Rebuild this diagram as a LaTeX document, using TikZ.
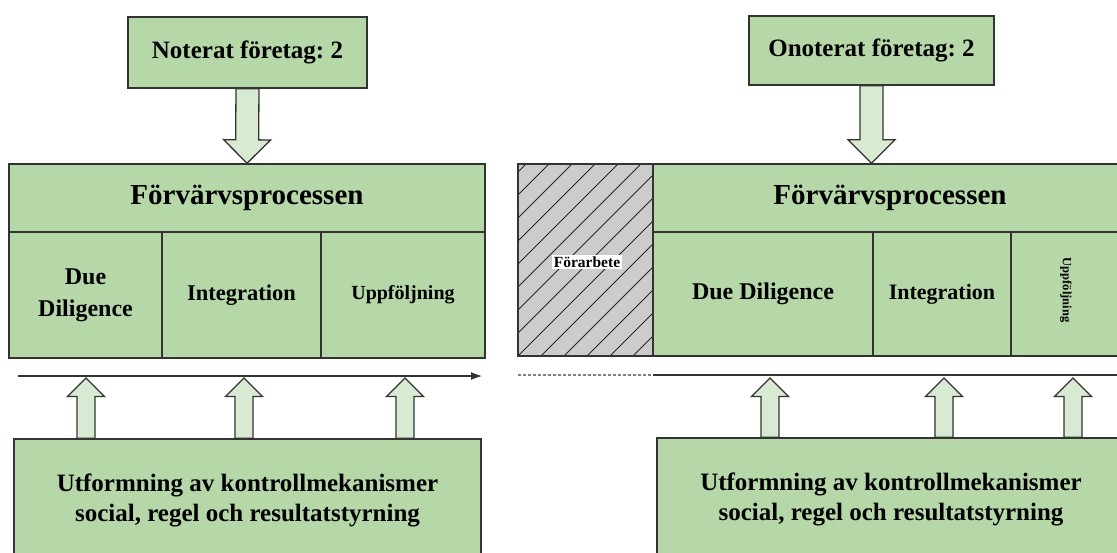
\documentclass[tikz,border=0pt]{standalone}
\usepackage{fontspec}
\setmainfont{Liberation Serif}
\usetikzlibrary{calc,arrows.meta}
\definecolor{boxgreen}{HTML}{B6D7A8}
\definecolor{arrowgreen}{HTML}{D9EAD3}
\definecolor{edgegray}{HTML}{333333}
\definecolor{hatchgray}{HTML}{CCCCCC}
\newcommand{\fsz}[2]{\fontsize{#1}{#2}\selectfont}
\frenchspacing
% block arrow: tail, tip, half shaft, half head
\newcommand{\blockarrow}[4]{%
  \coordinate (ba-p) at ($(#2)!#4!(#1)$);
  \draw[fatarrow] ($(#1)!#3!90:(#2)$) -- ($(ba-p)!#3!90:(#2)$) -- ($(ba-p)!#4!90:(#2)$) -- (#2)
    -- ($(ba-p)!#4!-90:(#2)$) -- ($(ba-p)!#3!-90:(#2)$) -- ($(#1)!#3!-90:(#2)$) -- cycle;}
\tikzset{
  box/.style={draw=edgegray, fill=boxgreen, line width=1.4pt, inner sep=0pt, align=center},
  fatarrow/.style={draw=edgegray, fill=arrowgreen, line width=1.3pt, line join=miter},
  hatched/.style={draw=edgegray, fill=hatchgray, line width=1.4pt, inner sep=0pt,
    path picture={\foreach \k in {-9,...,6}
      \draw[black!85, line width=0.9pt] ([xshift=\k*23pt]path picture bounding box.south west) -- ++(45:300pt);}},
  timeline/.style={edgegray, line width=1.2pt},
}
\begin{document}
\begin{tikzpicture}[x=1pt,y=-1pt]
  \useasboundingbox (0,0) rectangle (1117,552);
  \clip (0,0) rectangle (1117,552);

  % left: listed company
  \node[box, minimum width=239pt, minimum height=71pt, font=\bfseries\fsz{25}{30}] (noterat) at (247.5,52.5) {Noterat företag: 2};
  \node[box, minimum width=476pt, minimum height=68pt, font=\bfseries\fsz{29}{34}] (procL) at (247,198) {Förvärvsprocessen};
  \node[box, minimum width=153pt, minimum height=126pt, font=\bfseries\fsz{24}{32}] (ddL) at (85.5,295) {Due\\Diligence};
  \node[box, minimum width=159pt, minimum height=126pt, font=\bfseries\fsz{22.5}{27}] (intL) at (241.5,295) {Integration};
  \node[box, minimum width=164pt, minimum height=126pt, font=\bfseries\fsz{20}{24}] (uppL) at (403,295) {Uppföljning};
  \node[box, minimum width=467pt, minimum height=122pt, font=\bfseries\fsz{25}{30}] (ctrlL) at (247.5,500) {Utformning av kontrollmekanismer\\social, regel och resultatstyrning};

  \blockarrow{noterat.south}{procL.north}{11.5pt}{23.5pt}
  \coordinate (tlL0) at (18,376);
  \coordinate (tlL1) at (482,376);
  \draw[timeline, -{Latex[length=11pt,width=8pt]}] (tlL0) -- (tlL1);
  \foreach \n/\x in {1/86,2/244,3/405}{
    \coordinate (tipL\n) at (\x,378);
    \coordinate (tailL\n) at (ctrlL.north -| tipL\n);
    \blockarrow{tailL\n}{tipL\n}{9pt}{18.5pt}
  }

  % right: unlisted company
  \node[box, minimum width=245pt, minimum height=69pt, font=\bfseries\fsz{25}{30}] (onoterat) at (871.5,50.5) {Onoterat företag: 2};
  \node[hatched, minimum width=135pt, minimum height=192pt] (forarb) at (585.5,260) {};
  \node[fill=white, inner sep=2pt, font=\bfseries\fsz{15.5}{18}] (forarbLbl) at (587,262) {Förarbete};
  \node[box, minimum width=474pt, minimum height=68pt, font=\bfseries\fsz{29}{34}] (procR) at (890,198) {Förvärvsprocessen};
  \node[box, minimum width=220pt, minimum height=124pt, font=\bfseries\fsz{24}{30}] (ddR) at (763,294) {Due Diligence};
  \node[box, minimum width=138pt, minimum height=124pt, font=\bfseries\fsz{22}{26}] (intR) at (942,294) {Integration};
  \node[box, minimum width=116pt, minimum height=124pt] (uppR) at (1069,294) {};
  \node[rotate=-90, font=\bfseries\fsz{12.5}{14}] (uppRLbl) at (1066,290) {Uppföljning};
  \node[box, minimum width=468pt, minimum height=123pt, font=\bfseries\fsz{25}{30}] (ctrlR) at (891,499.5) {Utformning av kontrollmekanismer\\social, regel och resultatstyrning};

  \blockarrow{onoterat.south}{procR.north -| onoterat.south}{11.5pt}{23.5pt}
  \coordinate (tlR0) at (518,375);
  \coordinate (tlR1) at (653,375);
  \coordinate (tlR2) at (1130,375);
  \draw[timeline, gray, line width=1.2pt, dash pattern=on 2.5pt off 2.5pt] (tlR0) -- (tlR1);
  \draw[timeline] (tlR1) -- (tlR2);
  \foreach \n/\x in {1/770,2/944,3/1073}{
    \coordinate (tipR\n) at (\x,378);
    \coordinate (tailR\n) at (ctrlR.north -| tipR\n);
    \blockarrow{tailR\n}{tipR\n}{9pt}{18.5pt}
  }
\end{tikzpicture}
\end{document}
